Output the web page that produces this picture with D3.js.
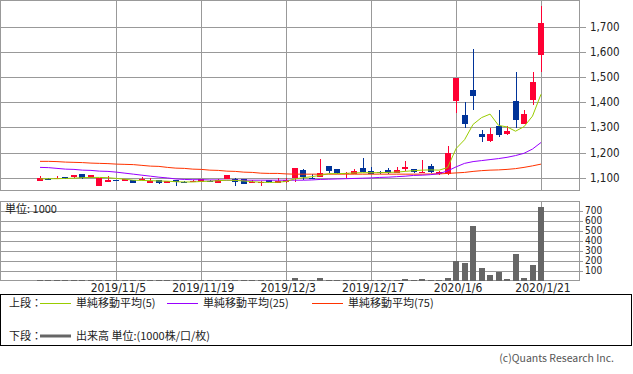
<!DOCTYPE html>
<html>
<head>
<meta charset="utf-8">
<script src="https://cdnjs.cloudflare.com/ajax/libs/d3/7.8.5/d3.min.js"></script>
<style>
body { margin: 0; background: #fff; }
svg { display: block; }
.num { font-family: 'DejaVu Sans Condensed', 'DejaVu Sans', sans-serif; font-stretch: condensed; fill: #222; }
.jp { font-family: 'Noto Sans CJK JP', sans-serif; fill: #222; }
</style>
</head>
<body>
<script>
var width = 633,
    height = 374;

// trading days shown (60)
var dates = ["2019/10/21","2019/10/23","2019/10/24","2019/10/25","2019/10/28","2019/10/29","2019/10/30","2019/10/31","2019/11/1","2019/11/5",
  "2019/11/6","2019/11/7","2019/11/8","2019/11/11","2019/11/12","2019/11/13","2019/11/14","2019/11/15","2019/11/18","2019/11/19",
  "2019/11/20","2019/11/21","2019/11/22","2019/11/25","2019/11/26","2019/11/27","2019/11/28","2019/11/29","2019/12/2","2019/12/3",
  "2019/12/4","2019/12/5","2019/12/6","2019/12/9","2019/12/10","2019/12/11","2019/12/12","2019/12/13","2019/12/16","2019/12/17",
  "2019/12/18","2019/12/19","2019/12/20","2019/12/23","2019/12/24","2019/12/25","2019/12/26","2019/12/27","2019/12/30","2020/1/6",
  "2020/1/7","2020/1/8","2020/1/9","2020/1/10","2020/1/14","2020/1/15","2020/1/16","2020/1/17","2020/1/20","2020/1/21"];

var opens  = [1087,1096,1094,1103,1103,1116,1098,1068,1083,1091, 1087,1090,1091,1080,1091,1080,1091,1084,1083,1083,
              1088,1078,1094,1094,1094,1080,1080,1091,1078,1084, 1099,1131,1100,1104,1147,1133,1116,1115,1137,1128,
              1123,1129,1120,1136,1135,1120,1147,1114,1114,1406, 1350,1449,1274,1247,1306,1274,1405,1314,1409,1590];
var highs  = [1107,1097,1107,1104,1111,1116,1111,1098,1105,1091, 1096,1090,1102,1098,1091,1088,1091,1085,1091,1094,
              1089,1093,1111,1097,1094,1089,1085,1091,1098,1100, 1138,1135,1113,1175,1147,1133,1122,1135,1178,1142,
              1128,1140,1143,1166,1136,1170,1154,1125,1226,1498, 1403,1612,1290,1299,1370,1306,1522,1370,1522,1784];
var lows   = [1087,1093,1093,1093,1098,1093,1097,1068,1083,1088, 1087,1080,1090,1080,1075,1080,1068,1082,1083,1083,
              1086,1077,1093,1068,1076,1080,1068,1083,1077,1078, 1082,1091,1095,1104,1117,1113,1097,1114,1122,1114,
              1115,1116,1118,1128,1118,1118,1120,1112,1112,1358, 1299,1369,1242,1243,1261,1270,1299,1313,1389,1522];
var closes = [1097,1094,1097,1094,1111,1100,1111,1098,1091,1088, 1095,1080,1095,1088,1080,1087,1083,1083,1087,1094,
              1087,1092,1111,1083,1076,1084,1084,1083,1087,1091, 1138,1104,1096,1120,1127,1118,1120,1127,1124,1115,
              1120,1120,1130,1144,1124,1124,1123,1124,1198,1498, 1312,1427,1260,1274,1270,1286,1330,1354,1481,1716];

var ma5  = [1095,1096,1096,1097,1098,1100,1101,1101,1100,1097, 1094,1090,1089,1088,1087,1086,1084,1083,1083,1085,
            1086,1088,1090,1089,1087,1084,1082,1081,1082,1085, 1095,1100,1104,1109,1116,1116,1117,1119,1120,1120,
            1120,1121,1122,1125,1128,1130,1131,1130,1140,1216, 1251,1312,1339,1353,1308,1302,1285,1303,1345,1432];
var ma25 = [1141,1140,1137,1134,1133,1130,1129,1126,1125,1122, 1118,1114,1110,1106,1102,1099,1095,1093,1092,1092,
            1091,1091,1090,1090,1090,1090,1090,1090,1090,1090, 1090,1090,1091,1093,1094,1095,1096,1097,1098,1099,
            1101,1102,1104,1106,1109,1110,1112,1116,1127,1143, 1157,1164,1168,1172,1176,1181,1188,1197,1214,1240];
var ma75 = [1165,1165,1164,1162,1161,1160,1158,1157,1156,1154, 1153,1152,1149,1146,1145,1141,1138,1137,1134,1133,
            1130,1129,1126,1125,1122,1121,1118,1117,1117,1115, 1114,1114,1114,1114,1114,1114,1114,1114,1114,1114,
            1114,1114,1114,1114,1114,1114,1115,1115,1117,1119, 1121,1125,1128,1130,1131,1133,1136,1141,1147,1154];

// volume, 1000 shares
var volumes = [12,11,12,11,13,12,11,13,12,11, 12,11,12,13,11,12,11,12,13,11, 12,11,13,12,11,12,11,12,11,12,
               28,12,11,28,12,11,12,11,12,11, 12,11,12,20,12,20,12,11,27,199, 180,547,129,57,93,20,269,30,159,736];

var priceTicks = [1100,1200,1300,1400,1500,1600,1700];
var volTicks = [100,200,300,400,500,600,700];
var dateTicks = ["2019/11/5","2019/11/19","2019/12/3","2019/12/17","2020/1/6","2020/1/21"];

var legendTop = [
  {label: "単純移動平均(5)", color: "#99cc00"},
  {label: "単純移動平均(25)", color: "#9900ff"},
  {label: "単純移動平均(75)", color: "#ff3300"}
];

var upColor = "#ff0033",
    downColor = "#003399",
    gridColor = "#999";

var svg = d3.select("body").append("svg")
    .attr("width", width)
    .attr("height", height);

var x = d3.scalePoint().domain(dates).range([40, 541]);
var y = d3.scaleLinear().domain([1051, 1807]).range([190, 0]);
var yv = d3.scaleLinear().domain([0, 796]).range([281, 201]);

var px = function(v){ return Math.round(v) + 0.5; };

// ---- price panel
var priceG = svg.append("g").attr("shape-rendering", "crispEdges");

priceG.selectAll(".hgrid").data(priceTicks).enter().append("line")
    .attr("x1", 0).attr("x2", 586)
    .attr("y1", function(d){ return px(y(d)); })
    .attr("y2", function(d){ return px(y(d)); })
    .attr("stroke", gridColor);

priceG.selectAll(".vgrid").data(dateTicks).enter().append("line")
    .attr("x1", function(d){ return px(x(d)); })
    .attr("x2", function(d){ return px(x(d)); })
    .attr("y1", 0).attr("y2", 190)
    .attr("stroke", gridColor);

priceG.append("rect")
    .attr("x", 0.5).attr("y", 0.5).attr("width", 579).attr("height", 190)
    .attr("fill", "none").attr("stroke", gridColor);

svg.selectAll(".plabel").data(priceTicks).enter().append("text")
    .attr("class", "num")
    .attr("x", 590)
    .attr("y", function(d){ return y(d); })
    .attr("dy", "0.35em")
    .style("font-size", "11.5px")
    .text(d3.format(","));

// candles
var candles = svg.append("g").attr("shape-rendering", "crispEdges")
  .selectAll("g").data(dates).enter().append("g");

candles.append("line")
    .attr("x1", function(d){ return px(x(d)); })
    .attr("x2", function(d){ return px(x(d)); })
    .attr("y1", function(d, i){ return y(highs[i]); })
    .attr("y2", function(d, i){ return y(lows[i]); })
    .attr("stroke", function(d, i){ return closes[i] >= opens[i] ? upColor : downColor; });

candles.append("rect")
    .attr("x", function(d){ return Math.round(x(d)) - 3; })
    .attr("width", 6)
    .attr("y", function(d, i){ return y(Math.max(opens[i], closes[i])); })
    .attr("height", function(d, i){ return Math.max(1, Math.abs(y(opens[i]) - y(closes[i]))); })
    .attr("fill", function(d, i){ return closes[i] >= opens[i] ? upColor : downColor; });

// moving averages
var maLine = d3.line()
    .x(function(d, i){ return x(dates[i]); })
    .y(function(d){ return y(d); });

[[ma75, "#ff3300"], [ma25, "#9900ff"], [ma5, "#99cc00"]].forEach(function(m){
  svg.append("path")
      .attr("d", maLine(m[0]))
      .attr("fill", "none")
      .attr("stroke", m[1])
      .attr("stroke-width", 1);
});

// ---- volume panel
var volG = svg.append("g").attr("shape-rendering", "crispEdges");

volG.selectAll(".hgrid").data(volTicks).enter().append("line")
    .attr("x1", 0).attr("x2", 583)
    .attr("y1", function(d){ return px(yv(d)); })
    .attr("y2", function(d){ return px(yv(d)); })
    .attr("stroke", gridColor);

volG.selectAll(".vgrid").data(dateTicks).enter().append("line")
    .attr("x1", function(d){ return px(x(d)); })
    .attr("x2", function(d){ return px(x(d)); })
    .attr("y1", 201).attr("y2", 280)
    .attr("stroke", gridColor);

volG.append("rect")
    .attr("x", 0.5).attr("y", 201.5).attr("width", 579).attr("height", 79)
    .attr("fill", "none").attr("stroke", gridColor);

volG.selectAll(".bar").data(dates).enter().append("rect")
    .attr("x", function(d){ return Math.round(x(d)) - 3; })
    .attr("width", 6)
    .attr("y", function(d, i){ return yv(volumes[i]); })
    .attr("height", function(d, i){ return yv(0) - yv(volumes[i]); })
    .attr("fill", "#666");

svg.selectAll(".vlabel").data(volTicks).enter().append("text")
    .attr("class", "num")
    .attr("x", 585)
    .attr("y", function(d){ return yv(d); })
    .attr("dy", "0.35em")
    .style("font-size", "10px")
    .style("font-stretch", "normal")
    .text(function(d){ return d; });

svg.append("text")
    .attr("class", "jp")
    .attr("x", 5).attr("y", 213)
    .style("font-size", "11px")
    .text("単位: 1000");

svg.selectAll(".xlabel").data(dateTicks).enter().append("text")
    .attr("class", "num")
    .attr("x", function(d){ return x(d) + 2; })
    .attr("y", 292)
    .attr("text-anchor", "middle")
    .style("font-size", "12px")
    .text(function(d){ return d; });

// ---- legend
svg.append("rect")
    .attr("x", 0.5).attr("y", 294.5).attr("width", 631).attr("height", 51)
    .attr("fill", "none").attr("stroke", "#000")
    .attr("shape-rendering", "crispEdges");

svg.append("text").attr("class", "jp")
    .attr("x", 9).attr("y", 307)
    .style("font-size", "11px")
    .text("上段：");

var legendX = [40, 167, 312];
var items = svg.selectAll(".leg").data(legendTop).enter().append("g")
    .attr("transform", function(d, i){ return "translate(" + legendX[i] + ",303)"; });

items.append("line")
    .attr("x1", 0).attr("x2", 31).attr("y1", 0.5).attr("y2", 0.5)
    .attr("stroke", function(d){ return d.color; })
    .attr("shape-rendering", "crispEdges");

items.append("text").attr("class", "jp")
    .attr("x", 36).attr("y", 4)
    .style("font-size", "11px")
    .text(function(d){ return d.label; });

svg.append("text").attr("class", "jp")
    .attr("x", 9).attr("y", 340)
    .style("font-size", "11px")
    .text("下段：");

svg.append("line")
    .attr("x1", 40).attr("x2", 71).attr("y1", 336).attr("y2", 336)
    .attr("stroke", "#666").attr("stroke-width", 3);

svg.append("text").attr("class", "jp")
    .attr("x", 76).attr("y", 340)
    .style("font-size", "11px")
    .text("出来高 単位:(1000株/口/枚)");

svg.append("text").attr("class", "jp")
    .attr("x", 614).attr("y", 362)
    .attr("text-anchor", "end")
    .style("font-size", "10.5px")
    .style("fill", "#555")
    .text("(c)Quants Research Inc.");
</script>
</body>
</html>
